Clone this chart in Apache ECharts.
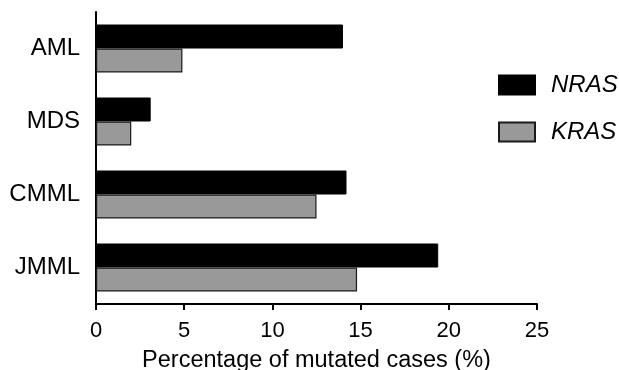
<!DOCTYPE html>
<html>
<head>
<meta charset="utf-8">
<script src="https://cdn.jsdelivr.net/npm/echarts@6/dist/echarts.min.js"></script>
<style>html,body{margin:0;padding:0;background:#fff;}#c{width:619px;height:370px;}</style>
</head>
<body>
<div id="c"></div>
<script>
const categories = ['AML', 'MDS', 'CMML', 'JMML'];
const nrasValues = [14.0, 3.1, 14.2, 19.4];
const krasValues = [4.9, 2.0, 12.5, 14.8];
const xTicks = [0, 5, 10, 15, 20, 25];
const xTitle = 'Percentage of mutated cases (%)';

const FONT = '"Liberation Sans", Arial, sans-serif';
const chart = echarts.init(document.getElementById('c'), null, {renderer: 'canvas'});
chart.setOption({
  animation: false,
  backgroundColor: '#fff',
  grid: {left: 96, right: 82, top: 12, bottom: 66, containLabel: false, outerBoundsMode: 'none'},
  legend: {
    orient: 'vertical', left: 498, top: 73, padding: 0,
    itemWidth: 36, itemHeight: 19, itemGap: 23,
    data: ['NRAS', 'KRAS'],
    textStyle: {fontFamily: FONT, fontSize: 24, fontStyle: 'italic', color: '#000', padding: [0, 0, 0, 11]},
    icon: 'rect'
  },
  xAxis: {
    type: 'value', min: xTicks[0], max: xTicks[xTicks.length - 1], interval: 5,
    name: xTitle, nameLocation: 'middle', nameGap: 45,
    nameTextStyle: {fontFamily: FONT, fontSize: 23.5, color: '#000'},
    axisLine: {show: true, lineStyle: {color: '#000', width: 2}},
    axisTick: {show: true, length: 6, lineStyle: {color: '#000', width: 2}},
    axisLabel: {fontFamily: FONT, fontSize: 22, color: '#000', margin: 16},
    splitLine: {show: false}
  },
  yAxis: {
    type: 'category', data: categories, inverse: true,
    axisLine: {show: true, lineStyle: {color: '#000', width: 2}},
    axisTick: {show: false},
    axisLabel: {fontFamily: FONT, fontSize: 24, color: '#000', margin: 16},
    splitLine: {show: false}
  },
  series: [
    {name: 'NRAS', type: 'bar', data: nrasValues, barWidth: 24, barGap: '0%',
     itemStyle: {color: '#000', borderColor: '#000', borderWidth: 1}},
    {name: 'KRAS', type: 'bar', data: krasValues, barWidth: 24, barGap: '0%',
     itemStyle: {color: '#999999', borderColor: '#1a1a1a', borderWidth: 1.2}}
  ]
});
</script>
</body>
</html>
